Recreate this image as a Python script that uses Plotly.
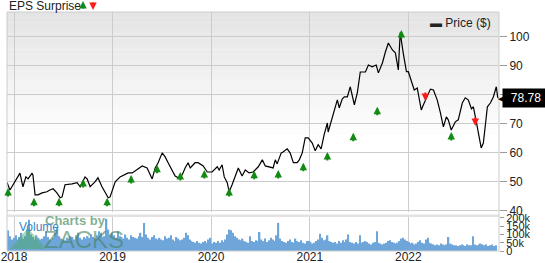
import plotly.graph_objects as go
import pandas as pd

# ---------------- data ----------------
price_dates = [
    "2017-12-06", "2017-12-17", "2018-01-23", "2018-02-03", "2018-02-14", "2018-02-22", "2018-03-09",
    "2018-03-12", "2018-03-20", "2018-03-31", "2018-04-15", "2018-05-03", "2018-05-14", "2018-05-26",
    "2018-06-09", "2018-06-21", "2018-06-28", "2018-07-09", "2018-08-04", "2018-08-23", "2018-09-03",
    "2018-09-21", "2018-09-29", "2018-10-10", "2018-10-28", "2018-11-08", "2018-11-23", "2018-12-04",
    "2018-12-16", "2018-12-23", "2019-01-11", "2019-01-29", "2019-02-28", "2019-03-15", "2019-04-21",
    "2019-05-09", "2019-05-28", "2019-06-08", "2019-06-19", "2019-07-04", "2019-07-15", "2019-07-26",
    "2019-08-10", "2019-08-21", "2019-09-01", "2019-09-16", "2019-09-27", "2019-10-08", "2019-10-16",
    "2019-11-03", "2019-11-14", "2019-12-03", "2019-12-18", "2020-01-05", "2020-01-24", "2020-01-31",
    "2020-02-11", "2020-02-19", "2020-03-01", "2020-03-08", "2020-03-19", "2020-03-30", "2020-04-11",
    "2020-04-25", "2020-05-07", "2020-05-21", "2020-06-05", "2020-06-24", "2020-07-09", "2020-07-20",
    "2020-08-07", "2020-08-18", "2020-08-26", "2020-09-02", "2020-09-17", "2020-09-24", "2020-10-09",
    "2020-10-20", "2020-11-01", "2020-11-15", "2020-11-23", "2020-12-04", "2020-12-15", "2020-12-26",
    "2021-01-10", "2021-01-21", "2021-02-01", "2021-02-12", "2021-02-23", "2021-03-07", "2021-03-10",
    "2021-03-25", "2021-04-05", "2021-04-13", "2021-04-20", "2021-05-01", "2021-05-09", "2021-05-20",
    "2021-05-31", "2021-06-07", "2021-06-15", "2021-06-26", "2021-07-07", "2021-07-26", "2021-08-06",
    "2021-08-20", "2021-09-04", "2021-09-12", "2021-09-27", "2021-10-08", "2021-10-19", "2021-11-03",
    "2021-11-14", "2021-11-25", "2021-12-02", "2021-12-13", "2021-12-25", "2022-01-01", "2022-01-16",
    "2022-01-23", "2022-02-03", "2022-02-11", "2022-02-18", "2022-02-26", "2022-03-13", "2022-03-24",
    "2022-04-04", "2022-04-18", "2022-04-30", "2022-05-11", "2022-05-22", "2022-05-29", "2022-06-09",
    "2022-06-24", "2022-07-05", "2022-07-20", "2022-07-31", "2022-08-11", "2022-08-23", "2022-08-30",
    "2022-09-10", "2022-09-17", "2022-09-28", "2022-10-06", "2022-10-21", "2022-11-01", "2022-11-12",
    "2022-11-23", "2022-11-28", "2022-12-02",
]
price_values = [
    49.8, 47.2, 53.0, 48.3, 51.7, 51.0, 53.0,
    52.4, 45.5, 45.5, 46.2, 46.6, 47.2, 47.6,
    46.2, 44.5, 44.8, 49.0, 49.3, 49.7, 48.3,
    51.7, 51.0, 48.3, 50.0, 51.4, 48.3, 46.6,
    44.5, 44.8, 50.0, 51.7, 53.1, 53.1, 55.5,
    54.8, 51.0, 54.8, 56.6, 60.0, 58.6, 56.6,
    54.1, 52.0, 51.4, 52.4, 54.8, 56.6, 54.8,
    56.6, 56.6, 55.5, 53.4, 53.4, 55.2, 54.1,
    55.9, 51.7, 49.7, 46.6, 49.0, 51.7, 54.8,
    52.0, 54.1, 53.1, 53.4, 55.2, 57.6, 55.5,
    55.2, 54.8, 57.6, 56.2, 60.0, 60.3, 61.4,
    60.0, 56.6, 56.6, 57.6, 60.0, 65.2, 65.2,
    63.4, 60.7, 62.8, 61.4, 66.2, 70.3, 67.2,
    72.0, 75.9, 78.3, 75.5, 78.6, 79.3, 79.3,
    82.8, 79.3, 76.6, 80.7, 87.9, 87.9, 90.3,
    89.7, 90.3, 87.6, 91.0, 94.8, 97.9, 95.5,
    94.5, 88.6, 101.5, 94.5, 88.0, 88.0, 84.1,
    81.7, 82.4, 78.3, 74.8, 76.6, 80.0, 82.0,
    81.7, 78.3, 73.8, 69.0, 72.4, 71.4, 67.9,
    70.7, 71.4, 77.2, 79.0, 78.3, 75.2, 75.9,
    70.7, 66.9, 61.7, 63.4, 75.9, 77.2, 79.3,
    82.8, 79.3, 78.78,
]

# EPS surprise markers (date, price level of arrow tip, beat/miss)
eps_dates = [
    "2017-12-10", "2018-03-16", "2018-06-17", "2018-09-14", "2018-12-12",
    "2019-03-11", "2019-06-15", "2019-09-09", "2019-12-07", "2020-03-08",
    "2020-06-09", "2020-09-06", "2020-12-08", "2021-03-07", "2021-06-11",
    "2021-09-08", "2021-12-06", "2022-03-05", "2022-06-09", "2022-09-06",
]
eps_levels = [
    47.9, 44.5, 44.5, 51.0, 44.5,
    52.4, 55.9, 53.4, 54.1, 47.9,
    53.8, 54.1, 56.6, 60.3, 66.9,
    75.9, 102.4, 77.9, 67.2, 69.3,
]
eps_type = [
    "beat", "beat", "beat", "beat", "beat",
    "beat", "beat", "beat", "beat", "beat",
    "beat", "beat", "beat", "beat", "beat",
    "beat", "beat", "miss", "beat", "miss",
]

# weekly volume (thousands), weeks starting 2017-12-04
volume_k = [
    110, 125, 90, 70,
    80, 95, 70, 85, 110, 75, 90, 130, 190, 100, 85, 70, 95,
    80, 70, 75, 90, 120, 85, 70, 65, 80, 110, 140, 90, 75,
    70, 65, 80, 75, 90, 85, 70, 95, 110, 80, 70, 85, 75,
    90, 80, 100, 85, 75, 95, 120, 110, 85, 90, 195, 130, 100,
    110, 95, 80, 120, 90, 85, 75, 100, 80, 70, 95, 85, 80,
    75, 90, 110, 85, 170, 100, 80, 70, 85, 95, 75, 70, 80,
    70, 65, 90, 75, 80, 95, 70, 60, 85, 75, 65, 70, 80,
    110, 95, 70, 60, 55, 50, 60, 50, 45, 55, 60, 50, 70,
    80, 45, 55, 50, 60, 50, 65, 55, 70, 100, 130, 125, 110,
    90, 80, 70, 65, 75, 60, 55, 50, 90, 60, 55, 65, 60,
    115, 70, 60, 75, 55, 65, 80, 70, 60, 95, 170, 75, 60,
    55, 50, 60, 70, 55, 50, 75, 60, 55, 65, 50, 45, 60,
    60, 55, 45, 50, 60, 70, 105, 80, 65, 70, 95, 60, 55,
    50, 55, 45, 60, 50, 65, 55, 70, 100, 55, 50, 45, 55,
    45, 95, 50, 55, 60, 55, 45, 40, 50, 55, 120, 50, 45,
    40, 45, 50, 60, 65, 55, 50, 45, 50, 60, 75, 80, 70,
    60, 55, 45, 50, 40, 45, 55, 65, 50, 45, 70, 80, 50,
    45, 40, 35, 40, 35, 45, 40, 35, 40, 85, 45, 40, 35,
    35, 30, 35, 40, 35, 30, 40, 35, 35, 90, 40, 35, 40,
    45, 40, 35, 40, 30, 35, 40, 30, 35,
]
volume_dates = pd.date_range("2017-12-04", periods=len(volume_k), freq="7D")

year_ticks = ["2018-01-01", "2019-01-01", "2020-01-01", "2021-01-01", "2022-01-01"]
year_labels = ["2018", "2019", "2020", "2021", "2022"]
price_ticks = [40, 50, 60, 70, 80, 90, 100]
vol_ticks = [0, 50, 100, 150, 200]
vol_labels = ["0", "50k", "100k", "150k", "200k"]

# ---------------- figure ----------------
FONT = "Liberation Sans, Arial, sans-serif"
GRID = "#cccccc"
W, H = 545, 263
ML, MR, MT, MB = 7, 46, 12, 12
PH = H - MT - MB

def py(px):  # pixel row -> paper y
    return (H - MB - px) / PH

def px_x(px):  # pixel column -> paper x
    return (px - ML) / (W - ML - MR)

fig = go.Figure()

fig.add_trace(go.Scatter(
    x=price_dates, y=price_values, mode="lines",
    line=dict(color="#000000", width=1.2), name="Price ($)",
    xaxis="x", yaxis="y", showlegend=False, hoverinfo="skip",
))

fig.add_trace(go.Bar(
    x=volume_dates, y=volume_k, xaxis="x2", yaxis="y2",
    marker=dict(color="#6ea6da", line=dict(width=0)),
    showlegend=False, hoverinfo="skip",
))

# gradient background in price panel
shapes = []
nb = 24
top = py(MT)
bot = py(140)
for i in range(nb):
    t = i / (nb - 1)
    c = int(228 + (255 - 228) * t)
    y1 = top - (top - bot) * i / nb
    y0 = top - (top - bot) * (i + 1) / nb
    shapes.append(dict(type="rect", xref="paper", yref="paper", x0=0, x1=1, y0=y0, y1=y1,
                       fillcolor=f"rgb({c},{c},{c})", line=dict(width=0), layer="below"))
# separator band between panels
shapes.append(dict(type="rect", xref="paper", yref="paper", x0=0, x1=1,
                   y0=py(217), y1=py(214.5), fillcolor="#e2e2e2", line=dict(width=0), layer="below"))
# outer frame
shapes.append(dict(type="rect", xref="paper", yref="paper", x0=0, x1=1, y0=0, y1=1,
                   line=dict(color=GRID, width=1), fillcolor="rgba(0,0,0,0)", layer="above"))
# zacks logo triangle (watermark)
shapes.append(dict(type="path", xref="paper", yref="paper",
                   path=f"M {px_x(10)} {py(249)} L {px_x(28)} {py(228)} L {px_x(46)} {py(249)} Z",
                   fillcolor="rgba(70,170,90,0.45)", line=dict(width=0), layer="above"))

ARW = dict(arrowhead=2, arrowsize=0.75, arrowwidth=2, standoff=0)
annotations = []
# EPS arrows
for d, lv, tp in zip(eps_dates, eps_levels, eps_type):
    col = "#138a13" if tp == "beat" else "#ff1a1a"
    annotations.append(dict(
        x=d, y=lv, xref="x", yref="y", text="", showarrow=True,
        ax=0, ay=10 if tp == "beat" else -10, axref="pixel", ayref="pixel",
        arrowcolor=col, **ARW,
    ))

# title "EPS Surprise" with arrows
annotations.append(dict(x=0, y=1, xref="paper", yref="paper", text="EPS Surprise",
                        xanchor="left", yanchor="middle", xshift=0, yshift=6, showarrow=False,
                        font=dict(family=FONT, size=12, color="#222222")))
annotations.append(dict(x=px_x(83), y=py(1), xref="paper", yref="paper", text="", showarrow=True,
                        ax=0, ay=9, arrowcolor="#138a13", **ARW))
annotations.append(dict(x=px_x(93), y=py(10), xref="paper", yref="paper", text="", showarrow=True,
                        ax=0, ay=-9, arrowcolor="#ff1a1a", **ARW))

# legend
annotations.append(dict(x=px_x(428), y=py(23), xref="paper", yref="paper",
                        text="▬ Price ($)", xanchor="left", yanchor="middle", showarrow=False,
                        font=dict(family=FONT, size=12, color="#222222")))

# last price tag
annotations.append(dict(x=1, y=price_values[-1], xref="paper", yref="y", text="78.78",
                        xanchor="left", yanchor="middle", xshift=3, showarrow=False,
                        bgcolor="#000000", borderpad=2, width=42, height=14, align="center",
                        font=dict(family=FONT, size=12, color="#ffffff")))
annotations.append(dict(x=1, y=price_values[-1], xref="paper", yref="y", text="◀",
                        xanchor="left", yanchor="middle", xshift=-3, showarrow=False,
                        font=dict(family="DejaVu Sans", size=11, color="#000000")))

# watermark and volume label
annotations.append(dict(x=px_x(43), y=py(220), xref="paper", yref="paper", text="<b>Charts by</b>",
                        xanchor="left", yanchor="middle", showarrow=False,
                        font=dict(family=FONT, size=13, color="rgba(90,150,110,0.75)")))
annotations.append(dict(x=px_x(42), y=py(239), xref="paper", yref="paper", text="ZACKS",
                        xanchor="left", yanchor="middle", showarrow=False,
                        font=dict(family=FONT, size=24, color="rgba(70,130,90,0.6)")))
annotations.append(dict(x=px_x(17), y=py(227), xref="paper", yref="paper", text="Volume",
                        xanchor="left", yanchor="middle", showarrow=False,
                        font=dict(family=FONT, size=12, color="#3a86c8")))

price_dom = [py(212), 1]
vol_dom = [0, py(217)]
xrange = ["2017-12-06", "2022-12-03"]

fig.update_layout(
    width=W, height=H,
    margin=dict(l=ML, r=MR, t=MT, b=MB, autoexpand=False),
    paper_bgcolor="#ffffff", plot_bgcolor="rgba(0,0,0,0)",
    font=dict(family=FONT, size=12, color="#222222"),
    showlegend=False, bargap=0.25,
    shapes=shapes, annotations=annotations,
    xaxis=dict(domain=[0, 1], anchor="y", range=xrange, type="date", automargin=False,
               tickvals=year_ticks, showticklabels=False, showgrid=True,
               gridcolor=GRID, gridwidth=1, zeroline=False, ticks=""),
    yaxis=dict(domain=price_dom, anchor="x", range=[39.6, 108.6], side="right", automargin=False,
               tickvals=price_ticks, showgrid=True, gridcolor=GRID, gridwidth=1,
               ticks="outside", ticklen=7, tickcolor="#999999", zeroline=False,
               tickfont=dict(family=FONT, size=12, color="#222222")),
    xaxis2=dict(domain=[0, 1], anchor="y2", range=xrange, type="date", matches="x", automargin=False,
                tickvals=year_ticks, ticktext=year_labels, showgrid=True,
                gridcolor=GRID, gridwidth=1, zeroline=False, ticks="", ticklen=0,
                ticklabelstandoff=-3,
                tickfont=dict(family=FONT, size=12, color="#222222")),
    yaxis2=dict(domain=vol_dom, anchor="x2", range=[0, 206], side="right", automargin=False,
                tickvals=vol_ticks, ticktext=vol_labels, showgrid=False,
                ticks="outside", ticklen=4, tickcolor="#999999", zeroline=False,
                tickfont=dict(family=FONT, size=11, color="#222222")),
)

fig.write_html("out.html")
